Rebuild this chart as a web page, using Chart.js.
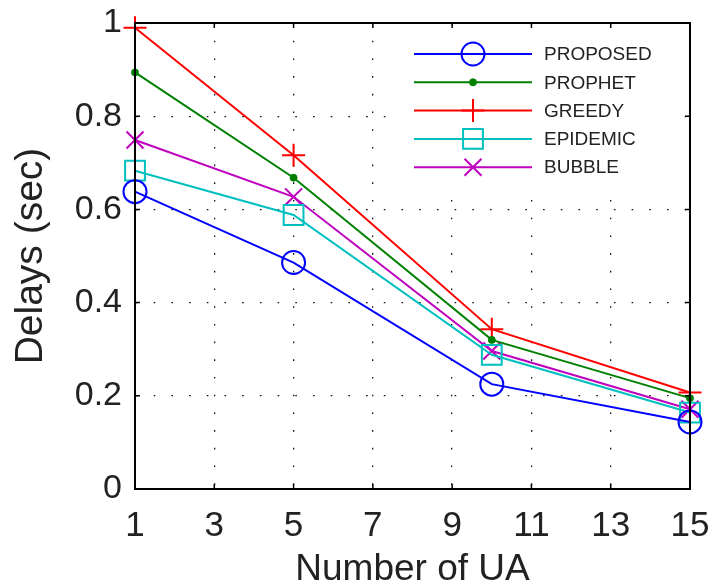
<!DOCTYPE html>
<html>
<head>
<meta charset="utf-8">
<script src="https://cdn.jsdelivr.net/npm/chart.js@4/dist/chart.umd.min.js"></script>
<style>
  body { margin: 0; background: #fff; }
  #wrap { width: 713px; height: 588px; }
</style>
</head>
<body>
<div id="wrap"><canvas id="delayChart" width="713" height="588"></canvas></div>
<script>
// number of UAs on the x axis
const uaCounts = [1, 5, 10, 15];

// average delay per scheme (sec)
const proposedDelays = [0.638, 0.486, 0.225, 0.144];
const prophetDelays = [0.894, 0.668, 0.320, 0.195];
const greedyDelays = [0.99, 0.716, 0.343, 0.207];
const epidemicDelays = [0.683, 0.588, 0.288, 0.164];
const bubbleDelays = [0.749, 0.627, 0.296, 0.171];

const seriesNames = ['PROPOSED', 'PROPHET', 'GREEDY', 'EPIDEMIC', 'BUBBLE'];

const xTicks = [1, 3, 5, 7, 9, 11, 13, 15];
const yTicks = [0, 0.2, 0.4, 0.6, 0.8, 1];
const yTickLabels = ['0', '0.2', '0.4', '0.6', '0.8', '1'];

const FONT = 'Liberation Sans, Arial, Helvetica, sans-serif';

function toPoints(values) {
    return uaCounts.map((x, i) => ({x: x, y: values[i]}));
}

function makeDataset(label, values, color, style, radius) {
    return {
        label: label,
        data: toPoints(values),
        borderColor: color,
        backgroundColor: 'transparent',
        borderWidth: 2,
        pointStyle: style,
        pointRadius: radius,
        pointBorderColor: color,
        pointBackgroundColor: 'transparent',
        pointBorderWidth: 2,
        tension: 0,
        clip: false
    };
}

const datasets = [
    makeDataset(seriesNames[0], proposedDelays, '#0000ff', 'circle', 11.5),
    makeDataset(seriesNames[1], prophetDelays, '#008000', 'circle', 3.5),
    makeDataset(seriesNames[2], greedyDelays, '#ff0000', 'cross', 11.5),
    makeDataset(seriesNames[3], epidemicDelays, '#00bfbf', 'rect', 14),
    makeDataset(seriesNames[4], bubbleDelays, '#bf00bf', 'crossRot', 12)
];
// the prophet marker is a filled dot
datasets[1].pointBackgroundColor = '#008000';
datasets[1].pointBorderWidth = 1;

// inward tick marks on all four sides plus the closed box
const boxPlugin = {
    id: 'boxTicks',
    afterDraw(chart) {
        const ctx = chart.ctx;
        const area = chart.chartArea;
        const xs = chart.scales.x;
        const ys = chart.scales.y;
        const len = 5;
        ctx.save();
        ctx.strokeStyle = '#000';
        ctx.lineWidth = 1.5;
        ctx.beginPath();
        xTicks.forEach(v => {
            const px = xs.getPixelForValue(v);
            ctx.moveTo(px, area.bottom);
            ctx.lineTo(px, area.bottom - len);
            ctx.moveTo(px, area.top);
            ctx.lineTo(px, area.top + len);
        });
        yTicks.forEach(v => {
            const py = ys.getPixelForValue(v);
            ctx.moveTo(area.left, py);
            ctx.lineTo(area.left + len, py);
            ctx.moveTo(area.right, py);
            ctx.lineTo(area.right - len, py);
        });
        ctx.stroke();
        ctx.lineWidth = 2;
        ctx.strokeRect(area.left, area.top, area.right - area.left, area.bottom - area.top);
        ctx.restore();
    }
};

// legend with a short line through each marker
const lineLegend = {
    id: 'lineLegend',
    afterDraw(chart) {
        const ctx = chart.ctx;
        const boxLeft = 398, boxTop = 37, boxRight = 680, boxBottom = 184;
        const lineStart = 414, lineEnd = 532, markX = 473, textX = 544;
        const rowTop = 54, rowGap = 28.3;
        ctx.save();
        ctx.fillStyle = '#fff';
        ctx.fillRect(boxLeft, boxTop, boxRight - boxLeft, boxBottom - boxTop);
        chart.data.datasets.forEach((ds, i) => {
            const y = rowTop + i * rowGap;
            ctx.strokeStyle = ds.borderColor;
            ctx.lineWidth = ds.borderWidth;
            ctx.beginPath();
            ctx.moveTo(lineStart, y);
            ctx.lineTo(lineEnd, y);
            ctx.stroke();
            ctx.fillStyle = ds.pointBackgroundColor;
            ctx.strokeStyle = ds.pointBorderColor;
            ctx.lineWidth = ds.pointBorderWidth;
            Chart.helpers.drawPoint(ctx, {
                pointStyle: ds.pointStyle,
                radius: ds.pointRadius,
                rotation: 0,
                borderWidth: ds.pointBorderWidth
            }, markX, y);
            ctx.fillStyle = '#222';
            ctx.font = '19px ' + FONT;
            ctx.textBaseline = 'middle';
            ctx.textAlign = 'left';
            ctx.fillText(ds.label, textX, y + 1);
        });
        ctx.restore();
    }
};

new Chart(document.getElementById('delayChart'), {
    type: 'line',
    data: {datasets: datasets},
    options: {
        responsive: false,
        animation: false,
        layout: {padding: {top: 23, right: 23, left: 0, bottom: 0}},
        plugins: {
            legend: {display: false},
            tooltip: {enabled: false}
        },
        scales: {
            x: {
                type: 'linear',
                min: 1,
                max: 15,
                afterBuildTicks: scale => { scale.ticks = xTicks.map(v => ({value: v})); },
                afterFit: scale => {
                    scale.height = 99;
                    scale.paddingLeft = 0;
                    scale.paddingRight = 0;
                },
                grid: {color: '#111', lineWidth: 1.3, drawTicks: false},
                border: {display: true, color: '#000', width: 2, dash: [1.6, 16.1]},
                ticks: {
                    color: '#222',
                    padding: 16,
                    maxRotation: 0,
                    autoSkip: false,
                    font: {family: FONT, size: 35}
                },
                title: {
                    display: true,
                    text: 'Number of UA',
                    color: '#222',
                    padding: {top: 0, bottom: 0},
                    font: {family: FONT, size: 37, lineHeight: 1}
                }
            },
            y: {
                min: 0,
                max: 1,
                afterBuildTicks: scale => { scale.ticks = yTicks.map(v => ({value: v})); },
                afterFit: scale => {
                    scale.width = 135;
                    scale.paddingTop = 0;
                    scale.paddingBottom = 0;
                },
                grid: {color: '#111', lineWidth: 1.3, drawTicks: false},
                border: {display: true, color: '#000', width: 2, dash: [1.6, 16.1]},
                ticks: {
                    color: '#222',
                    padding: 13,
                    autoSkip: false,
                    font: {family: FONT, size: 34},
                    callback: (value, index) => yTickLabels[index]
                },
                title: {
                    display: true,
                    text: 'Delays (sec)',
                    color: '#222',
                    padding: {top: 12, bottom: 0},
                    font: {family: FONT, size: 39, lineHeight: 1}
                }
            }
        }
    },
    plugins: [boxPlugin, lineLegend]
});
</script>
</body>
</html>
